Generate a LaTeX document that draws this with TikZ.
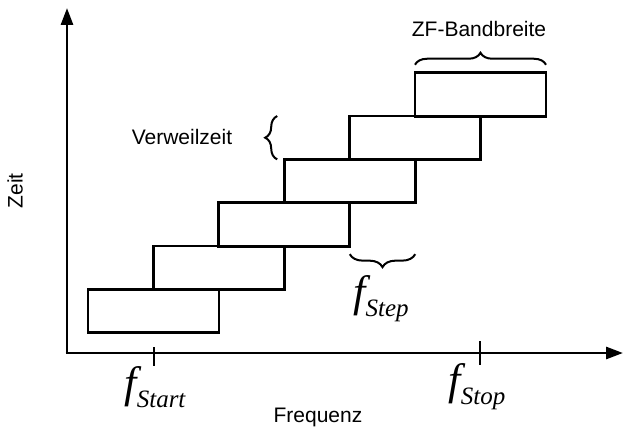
\documentclass[tikz,border=0pt]{standalone}
\usepackage{fontspec}
\setmainfont{Liberation Sans}
\newfontfamily\serifit[ItalicFont={Liberation Serif Italic}]{Liberation Serif}
\usetikzlibrary{arrows.meta,decorations.pathreplacing}

% frequency symbol with an italic subscript
\newcommand{\freqsym}[1]{{\serifit\itshape\fontsize{44}{44}\selectfont f}\kern0pt{\serifit\itshape\fontsize{25}{25}\selectfont\raisebox{-10pt}{#1}}}

\begin{document}
\begin{tikzpicture}[x=1pt,y=-1pt,
  lw/.style={line width=2.8pt},
  band/.style={draw, lw, minimum width=131pt, minimum height=43.5pt, inner sep=0pt, outer sep=0pt},
  axis/.style={lw, -{Triangle[length=17pt,width=12pt]}},
  tick/.style={lw},
  lbl/.style={font=\fontsize{21}{21}\selectfont, inner sep=0pt},
  flbl/.style={inner sep=0pt},
  brc/.style={line width=2pt, decorate, decoration={brace, amplitude=#1}},
  brc/.default=12pt
]
\useasboundingbox (0,0) rectangle (623,430);

% axes
\coordinate (O) at (67,353);
\coordinate (xend) at (623,353);
\coordinate (yend) at (67,8);
\draw[axis] ([xshift=-1.4pt]O) -- (xend);
\draw[axis] (O) -- (yend);

% frequency ticks
\coordinate (tstart) at (154,353);
\coordinate (tstop) at (480,353);
\draw[tick] ([yshift=6pt]tstart) -- ([yshift=-13pt]tstart);
\draw[tick] ([yshift=12pt]tstop) -- ([yshift=-12pt]tstop);

% staircase of sweep bands
\foreach \i in {0,...,5}{
  \node[band] (r\i) at ({153.5+65.4*\i},{311-43.3*\i}) {};
}

% braces
\draw[brc] ([yshift=8pt]r5.north west) -- ([yshift=8pt]r5.north east);
\draw[brc] ([xshift=-7pt]r3.north west) -- ([xshift=-7pt]r3.north west |- r4.north);
\draw[brc=13pt] ([yshift=-8pt]r3.south east |- r2.south) -- ([yshift=-8pt]r2.south east);

% labels
\node[lbl] (zf) at (479,29) {ZF-Bandbreite};
\node[lbl] (vz) at (182,137) {Verweilzeit};
\node[lbl, rotate=90] (zeit) at (15,191) {Zeit};
\node[lbl] (freq) at (318,417) {Frequenz};
\node[flbl] (fstart) at (155,387) {\freqsym{Start}};
\node[flbl] (fstop) at (477,387) {\freqsym{Stop}};
\node[flbl] (fstep) at (381,299) {\freqsym{Step}};
\end{tikzpicture}
\end{document}
